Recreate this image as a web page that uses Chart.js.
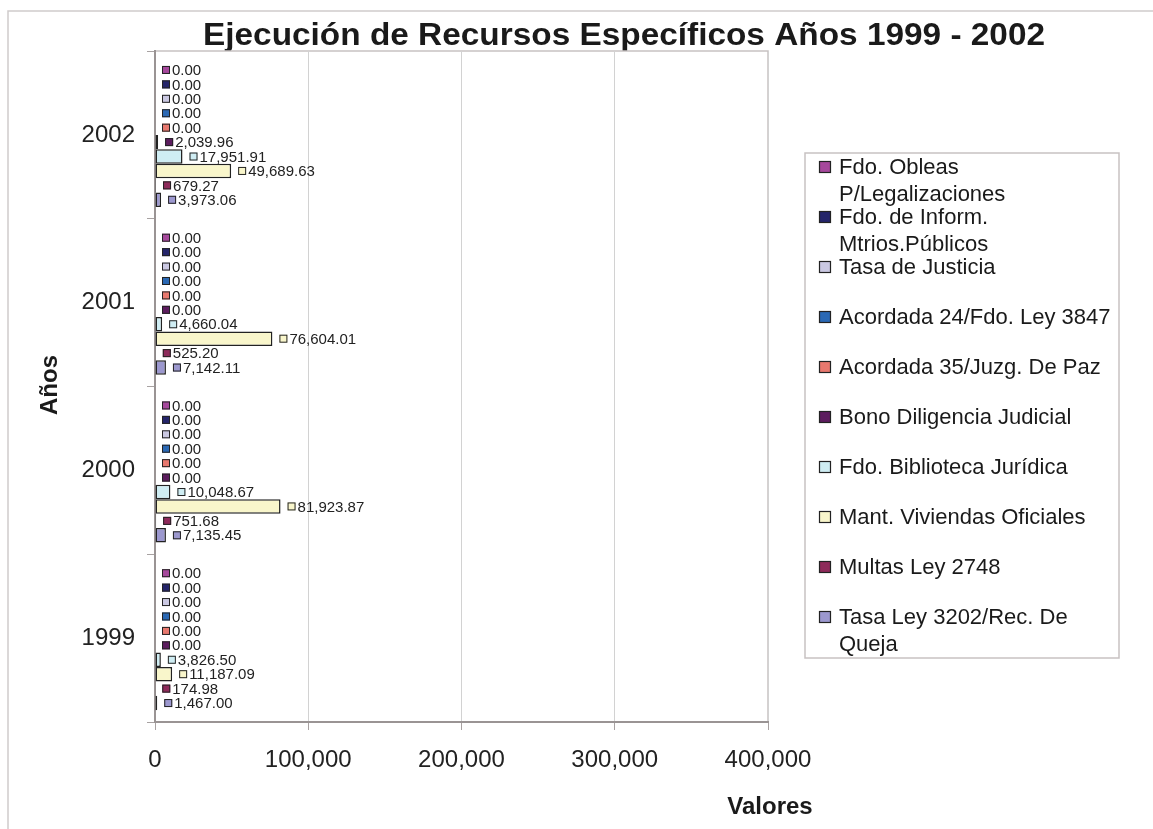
<!DOCTYPE html>
<html><head><meta charset="utf-8">
<script src="https://cdn.jsdelivr.net/npm/chart.js@4.4.1/dist/chart.umd.min.js"></script>
<style>html,body{margin:0;padding:0;background:#fff;}canvas{display:block;}</style>
</head><body>
<canvas id="c" width="1153" height="829"></canvas>
<script>
// ---- data ----
const titleText = 'Ejecución de Recursos Específicos Años 1999 - 2002';
const xAxisTitle = 'Valores';
const yAxisTitle = 'Años';
const years = ['2002', '2001', '2000', '1999'];
const seriesNames = [
  'Fdo. Obleas P/Legalizaciones',
  'Fdo. de Inform. Mtrios.Públicos',
  'Tasa de Justicia',
  'Acordada 24/Fdo. Ley 3847',
  'Acordada 35/Juzg. De Paz',
  'Bono Diligencia Judicial',
  'Fdo. Biblioteca Jurídica',
  'Mant. Viviendas Oficiales',
  'Multas Ley 2748',
  'Tasa Ley 3202/Rec. De Queja'
];
// values per year, in the order of `years` (2002, 2001, 2000, 1999)
const fdoObleas      = [0, 0, 0, 0];
const fdoInform      = [0, 0, 0, 0];
const tasaJusticia   = [0, 0, 0, 0];
const acordada24     = [0, 0, 0, 0];
const acordada35     = [0, 0, 0, 0];
const bonoDiligencia = [2039.96, 0, 0, 0];
const fdoBiblioteca  = [17951.91, 4660.04, 10048.67, 3826.50];
const mantViviendas  = [49689.63, 76604.01, 81923.87, 11187.09];
const multas         = [679.27, 525.20, 751.68, 174.98];
const tasaLey        = [3973.06, 7142.11, 7135.45, 1467.00];
const xTicks = [0, 100000, 200000, 300000, 400000];

const seriesValues = [fdoObleas, fdoInform, tasaJusticia, acordada24, acordada35,
  bonoDiligencia, fdoBiblioteca, mantViviendas, multas, tasaLey];
const seriesColors = ['#A6489C', '#24246A', '#CAC8E2', '#2A68B4', '#E8786E',
  '#5C1C5E', '#CFEDF3', '#F9F6CB', '#8E2A5A', '#9C98CF'];

const FONT = '"Liberation Sans", Arial, sans-serif';
const fmt = v => v.toLocaleString('en-US', {minimumFractionDigits: 2, maximumFractionDigits: 2});

function wrap(ctx, text, maxW) {
  const words = text.split(' ');
  const lines = [];
  let cur = '';
  for (const w of words) {
    const test = cur ? cur + ' ' + w : w;
    if (ctx.measureText(test).width > maxW && cur) { lines.push(cur); cur = w; }
    else cur = test;
  }
  if (cur) lines.push(cur);
  return lines;
}

const decor = {
  id: 'decor',
  beforeDraw(chart) {
    const ctx = chart.ctx, a = chart.chartArea;
    ctx.save();
    ctx.strokeStyle = '#d0cbcb'; ctx.lineWidth = 1.5;
    ctx.beginPath(); ctx.moveTo(8, 829); ctx.lineTo(8, 11); ctx.lineTo(1153, 11); ctx.stroke();
    ctx.font = 'bold 31px ' + FONT;
    ctx.fillStyle = '#1a1a1a'; ctx.textBaseline = 'alphabetic'; ctx.textAlign = 'left';
    const w = ctx.measureText(titleText).width;
    ctx.translate(203, 45); ctx.scale(842 / w, 1);
    ctx.fillText(titleText, 0, 0);
    ctx.restore();
    ctx.save();
    ctx.fillStyle = '#ffffff';
    ctx.fillRect(a.left, a.top, a.right - a.left, a.bottom - a.top);
    ctx.strokeStyle = '#c8c2c2'; ctx.lineWidth = 1.5;
    ctx.strokeRect(a.left, a.top, a.right - a.left, a.bottom - a.top);
    ctx.restore();
  },
  afterDatasetDraw(chart, args) {
    const ctx = chart.ctx;
    const ds = chart.data.datasets[args.index];
    ctx.save();
    ctx.font = '15px ' + FONT;
    ctx.textBaseline = 'middle'; ctx.textAlign = 'left';
    args.meta.data.forEach((el, i) => {
      const v = ds.data[i];
      const x = el.x, y = el.y;
      ctx.fillStyle = ds.backgroundColor;
      ctx.fillRect(x + 7, y - 4, 8, 8);
      ctx.strokeStyle = '#222'; ctx.lineWidth = 1;
      ctx.strokeRect(x + 7.5, y - 3.5, 7, 7);
      ctx.fillStyle = '#222';
      ctx.fillText(fmt(v), x + 17, y + 1);
    });
    ctx.restore();
  },
  afterDraw(chart) {
    const ctx = chart.ctx;
    ctx.save();
    // axis titles
    ctx.fillStyle = '#1a1a1a';
    ctx.font = 'bold 24px ' + FONT;
    ctx.textAlign = 'center'; ctx.textBaseline = 'middle';
    ctx.fillText(xAxisTitle, 770, 807);
    ctx.save();
    ctx.translate(50, 385); ctx.rotate(-Math.PI / 2);
    ctx.fillText(yAxisTitle, 0, 0);
    ctx.restore();
    // legend
    ctx.strokeStyle = '#c8c2c2'; ctx.lineWidth = 1.5;
    ctx.strokeRect(805, 153, 314, 505);
    ctx.font = '22px ' + FONT;
    ctx.textAlign = 'left'; ctx.textBaseline = 'middle';
    chart.data.datasets.forEach((ds, i) => {
      const y0 = 167 + 50 * i;
      ctx.fillStyle = ds.backgroundColor;
      ctx.fillRect(819, y0 - 6, 12, 12);
      ctx.strokeStyle = '#222'; ctx.lineWidth = 1.2;
      ctx.strokeRect(819.5, y0 - 5.5, 11, 11);
      ctx.fillStyle = '#1a1a1a';
      const lines = wrap(ctx, ds.label, 282);
      lines.forEach((l, j) => ctx.fillText(l, 839, y0 + 1 + j * 27));
    });
    ctx.restore();
  }
};

new Chart(document.getElementById('c'), {
  type: 'bar',
  data: {
    labels: years,
    datasets: seriesNames.map((name, i) => ({
      label: name,
      data: seriesValues[i],
      backgroundColor: seriesColors[i],
      borderColor: '#222',
      borderWidth: 1.5,
      borderSkipped: false,
      barPercentage: 1.0,
      categoryPercentage: 0.86
    }))
  },
  options: {
    indexAxis: 'y',
    responsive: false,
    animation: false,
    devicePixelRatio: 1,
    locale: 'en-US',
    layout: {padding: {top: 51, right: 385, left: 0, bottom: 0}},
    plugins: {legend: {display: false}, title: {display: false}, tooltip: {enabled: false}},
    scales: {
      x: {
        min: xTicks[0], max: xTicks[xTicks.length - 1],
        afterFit: s => { s.height = 107; },
        afterBuildTicks: s => { s.ticks = xTicks.map(v => ({value: v})); },
        ticks: {color: '#222', font: {size: 24, family: FONT}, padding: 16, maxRotation: 0},
        grid: {color: '#d2d2d2', lineWidth: 1, tickLength: 8, tickColor: '#a8a2a2'},
        border: {color: '#9a9494', width: 2}
      },
      y: {
        afterFit: s => { s.width = 155; },
        ticks: {color: '#222', font: {size: 24, family: FONT}, padding: 12},
        grid: {drawOnChartArea: false, tickLength: 8, tickColor: '#a8a2a2'},
        border: {color: '#9a9494', width: 2}
      }
    }
  },
  plugins: [decor]
});
</script>
</body></html>
